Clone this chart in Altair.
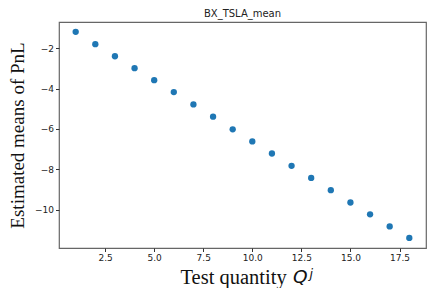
import altair as alt
import pandas as pd

quantity = list(range(1, 19))
pnl_mean = [-1.18, -1.79, -2.39, -2.98, -3.58, -4.17, -4.78, -5.39, -6.02,
            -6.62, -7.22, -7.83, -8.43, -9.04, -9.65, -10.24, -10.84, -11.41]
x_ticks = [2.5, 5.0, 7.5, 10.0, 12.5, 15.0, 17.5]
y_ticks = [-2, -4, -6, -8, -10]

df = pd.DataFrame({"q": quantity, "pnl": pnl_mean})

points = alt.Chart(df).mark_circle(size=40, color="#1f77b4", opacity=1).encode(
    x=alt.X("q:Q", scale=alt.Scale(domain=[0.15, 18.85], nice=False, zero=False),
            axis=alt.Axis(values=x_ticks, format=".1f", title="Test quantity",
                          grid=False, domain=False, tickSize=3.5, tickColor="#333",
                          labelFontSize=9, labelColor="#222", labelPadding=2,
                          titleFont="Liberation Serif", titleFontSize=20.5,
                          titleFontWeight="normal", titleColor="#111",
                          titleAlign="left", titleBaseline="alphabetic",
                          titleX=121, titleY=35)),
    y=alt.Y("pnl:Q", scale=alt.Scale(domain=[-11.91, -0.69], nice=False, zero=False),
            axis=alt.Axis(values=y_ticks, format="d", title="Estimated means of PnL",
                          grid=False, domain=False, tickSize=3.5, tickColor="#333",
                          labelFontSize=9, labelColor="#222", labelPadding=2,
                          titleFont="Liberation Serif", titleFontSize=19,
                          titleFontWeight="normal", titleColor="#111", titlePadding=7)),
)

q_sym = alt.Chart(pd.DataFrame({"t": ["Q"]})).mark_text(
    font="DejaVu Sans", fontStyle="italic", fontSize=18.5, color="#111",
    align="left", baseline="alphabetic"
).encode(text="t:N", x=alt.value(234), y=alt.value(261))

sup = alt.Chart(pd.DataFrame({"t": ["j"]})).mark_text(
    font="DejaVu Sans", fontStyle="italic", fontSize=12.5, color="#111",
    align="left", baseline="alphabetic"
).encode(text="t:N", x=alt.value(250.5), y=alt.value(255.5))

chart = alt.layer(points, q_sym, sup).properties(
    width=367, height=226,
    title=alt.TitleParams("BX_TSLA_mean", fontSize=10, font="DejaVu Sans",
                          fontWeight="normal", color="#222", offset=3),
    autosize=alt.AutoSizeParams(type="none"),
    padding={"left": 51, "top": 14, "right": 2, "bottom": 40},
).configure_view(stroke="#666", strokeWidth=1.2).configure_axis(
    labelFont="DejaVu Sans"
)

chart.save("out.html", embed_options={"renderer": "svg", "actions": False})
